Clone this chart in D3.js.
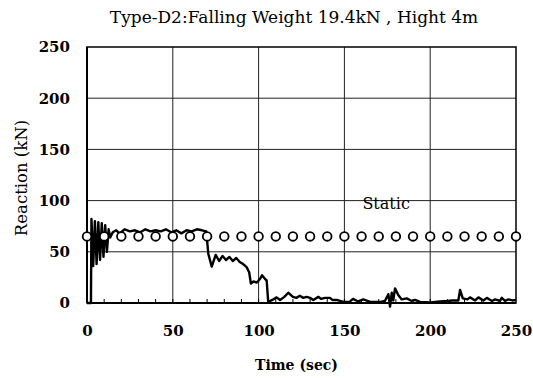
<!DOCTYPE html>
<html>
<head>
<meta charset="utf-8">
<script src="https://cdn.jsdelivr.net/npm/d3@7"></script>
<style>
  html, body { margin: 0; padding: 0; background: #fff; }
  svg { display: block; }
  text { font-family: "DejaVu Serif", "Liberation Serif", serif; fill: #000; }
</style>
</head>
<body>
<div id="chart"></div>
<script>
(function () {
    'use strict';

    // ── data ─────────────────────────────────────────────────────────────────
    const reactionTime = [
        0, 2.3, 2.6, 3.6, 4.6, 5.6, 6.6, 7.6, 8.6, 9.6, 10.6, 11.6, 12.6, 13.5, 15,
        17, 19, 22, 25, 28, 31, 34,
        37, 40, 43, 46, 49, 52, 55, 58, 61, 64, 67, 69.5, 70.7, 72.7, 75, 77, 79,
        81, 83, 85, 87, 89, 91, 93, 94.5, 95.5, 97, 99, 101, 102, 104, 104.7, 105.6,
        108, 110.5, 112.5, 115, 117.3, 120, 122, 124, 126, 128, 130, 131.9, 134.8,
        136.5, 138.7, 141.6, 143, 145.5, 149.4, 153, 155, 158, 161, 165, 171, 173.6,
        175.6, 176.6, 177.6, 178.5, 179.5, 181.4, 183.4, 186.3, 189.2, 191.2, 194,
        200, 205.7, 210.5, 212.5, 216.4, 217.4, 219, 221.7, 223.2, 226.2, 228.1,
        231, 233, 236, 237.8, 240.7, 241.7, 243.6, 245.5, 248, 250
    ];
    const reactionValue = [
        0, 0, 82, 36, 80, 38, 79, 42, 78, 45, 76, 50, 72, 64, 69,
        71, 68, 72, 70, 71, 69, 72,
        70, 71, 70, 72, 69, 71, 68, 71, 70, 72, 71, 70, 48, 35.5, 47, 41, 46,
        42, 45, 41, 44, 40, 38, 35, 30, 19, 21, 20, 24, 27, 23, 22, 1,
        3, 5.5, 3, 6, 10, 6, 5, 7, 5, 6, 5, 3, 6,
        4, 5, 5, 3, 3, 1, 1, 4, 1.5, 3.5, 1, 1, 2,
        8.6, -3.6, 10, 2.5, 14.3, 7.8, 3.5, 4.5, 2, 3, 1,
        0.5, 1.5, 2, 2.5, 2.5, 12.7, 4.5, 3.5, 5.5, 2.5, 5.5,
        2.5, 5, 2, 3.5, 2, 5, 2, 3.5, 2.5, 3
    ];
    const staticTime  = d3.range(0, 251, 10);
    const staticValue = staticTime.map(() => 65);

    const xTicks = [0, 50, 100, 150, 200, 250];
    const yTicks = [0, 50, 100, 150, 200, 250];
    const xMinorTicks = d3.range(10, 250, 10);

    const titleText = 'Type-D2:Falling Weight 19.4kN , Hight 4m';
    const xLabel = 'Time (sec)';
    const yLabel = 'Reaction (kN)';
    const staticLabel = 'Static';

    // ── layout ───────────────────────────────────────────────────────────────
    const W = 533, H = 378;
    const m = { left: 87, top: 47, right: 17, bottom: 75 };
    const pw = W - m.left - m.right;
    const ph = H - m.top - m.bottom;

    const x = d3.scaleLinear().domain([0, 250]).range([0, pw]);
    const y = d3.scaleLinear().domain([0, 250]).range([ph, 0]);

    const svg = d3.select('#chart').append('svg')
        .attr('width', W).attr('height', H);

    svg.append('text')
        .attr('x', 294).attr('y', 23)
        .attr('text-anchor', 'middle')
        .style('font-size', '17px')
        .text(titleText);

    const g = svg.append('g').attr('transform', `translate(${m.left},${m.top})`);

    // ── grid ─────────────────────────────────────────────────────────────────
    g.append('g').selectAll('line')
        .data(yTicks.slice(1, -1)).enter().append('line')
        .attr('x1', 0).attr('x2', pw)
        .attr('y1', d => y(d)).attr('y2', d => y(d))
        .attr('stroke', '#222').attr('stroke-width', 1);
    g.append('g').selectAll('line')
        .data(xTicks.slice(1, -1)).enter().append('line')
        .attr('y1', 0).attr('y2', ph)
        .attr('x1', d => x(d)).attr('x2', d => x(d))
        .attr('stroke', '#222').attr('stroke-width', 1);

    // minor ticks on the time axis (inward)
    g.append('g').selectAll('line')
        .data(xMinorTicks).enter().append('line')
        .attr('x1', d => x(d)).attr('x2', d => x(d))
        .attr('y1', ph).attr('y2', ph - 4)
        .attr('stroke', '#000').attr('stroke-width', 1);

    // frame
    g.append('rect')
        .attr('width', pw).attr('height', ph)
        .attr('fill', 'none').attr('stroke', '#000').attr('stroke-width', 1.5);
    g.append('line').attr('x1', 0).attr('x2', pw).attr('y1', ph).attr('y2', ph)
        .attr('stroke', '#000').attr('stroke-width', 2.2);
    g.append('line').attr('x1', 0).attr('x2', 0).attr('y1', 0).attr('y2', ph)
        .attr('stroke', '#000').attr('stroke-width', 2);

    // ── axes ─────────────────────────────────────────────────────────────────
    const xAxis = g.append('g').attr('transform', `translate(0,${ph})`)
        .call(d3.axisBottom(x).tickValues(xTicks).tickSize(0).tickPadding(22));
    const yAxis = g.append('g')
        .call(d3.axisLeft(y).tickValues(yTicks).tickSize(0).tickPadding(17));
    [xAxis, yAxis].forEach(a => {
        a.select('.domain').remove();
        a.selectAll('text')
            .style('font-size', '15px')
            .style('font-weight', 'bold')
            .style('font-family', '"DejaVu Serif", serif');
    });

    svg.append('text')
        .attr('x', m.left + pw / 2 - 5).attr('y', 370)
        .attr('text-anchor', 'middle')
        .style('font-size', '14px').style('font-weight', 'bold')
        .text(xLabel);
    svg.append('text')
        .attr('transform', `translate(27,${m.top + ph / 2 + 3}) rotate(-90)`)
        .attr('text-anchor', 'middle')
        .style('font-size', '16.5px')
        .text(yLabel);

    // ── reaction curve ───────────────────────────────────────────────────────
    const line = d3.line()
        .x((d, i) => x(reactionTime[i]))
        .y(d => y(d));
    g.append('path')
        .datum(reactionValue)
        .attr('fill', 'none')
        .attr('stroke', '#000')
        .attr('stroke-width', 2.4)
        .attr('stroke-linejoin', 'round')
        .attr('d', line);

    // ── static markers ───────────────────────────────────────────────────────
    g.append('g').selectAll('circle')
        .data(staticValue).enter().append('circle')
        .attr('cx', (d, i) => x(staticTime[i]))
        .attr('cy', d => y(d))
        .attr('r', 4.3)
        .attr('fill', '#fff')
        .attr('stroke', '#000')
        .attr('stroke-width', 1.8);

    g.append('text')
        .attr('x', x(160.5)).attr('y', y(91.5))
        .style('font-size', '16px')
        .text(staticLabel);
})();
</script>
</body>
</html>
